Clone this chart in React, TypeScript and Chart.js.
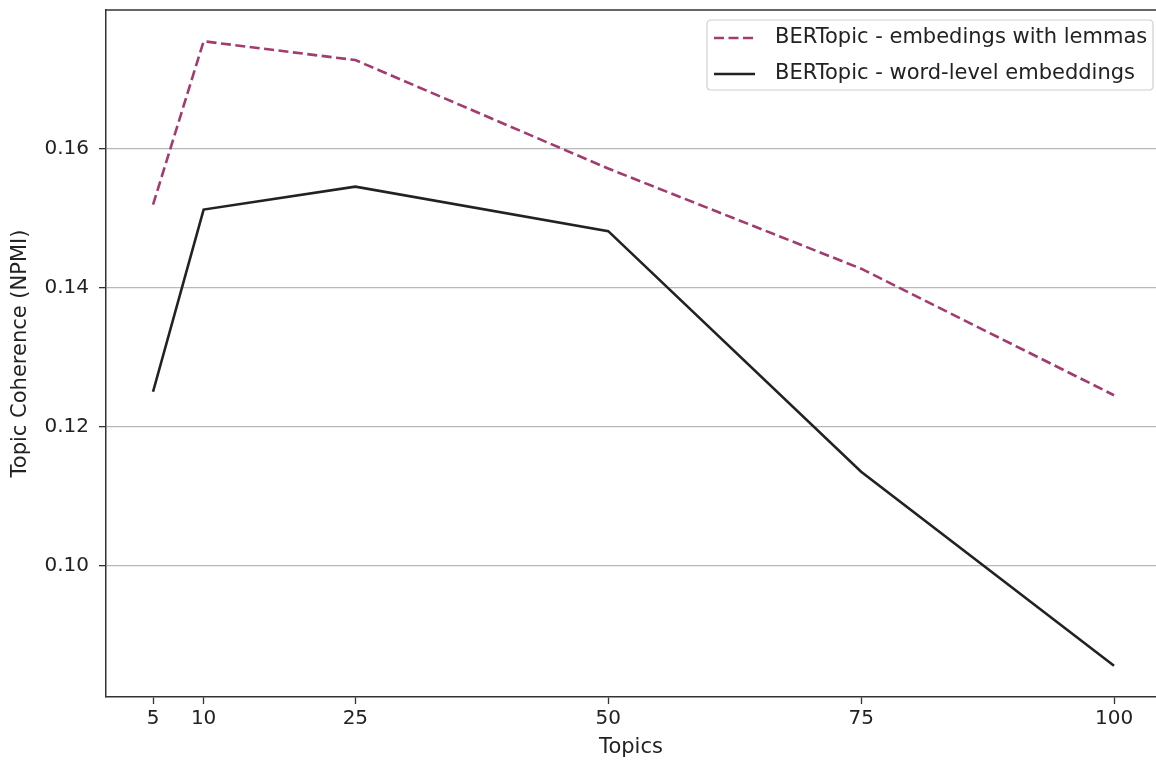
import React, { useEffect, useRef } from "react";
import { Chart, registerables } from "chart.js";

Chart.register(...registerables);

const topics = [5, 10, 25, 50, 75, 100];
const lemmaValues = [0.1519, 0.1754, 0.1727, 0.1571, 0.1427, 0.1245];
const wordValues = [0.125, 0.1512, 0.1545, 0.1481, 0.1135, 0.0856];
const yTicks = [0.1, 0.12, 0.14, 0.16];
const seriesLabels = [
  "BERTopic - embedings with lemmas",
  "BERTopic - word-level embeddings",
];
const lemmaColor = "#a23b6f";
const wordColor = "#222222";
const FONT = "'DejaVu Sans', sans-serif";
const FS = 20;
const FS_T = 21;

const framePlugin = {
  id: "frameAndLegend",
  afterDraw(chart: any) {
    const { ctx, chartArea } = chart;
    ctx.save();
    ctx.strokeStyle = "#333";
    ctx.lineWidth = 1.5;
    ctx.beginPath();
    ctx.moveTo(chartArea.left, chartArea.top);
    ctx.lineTo(chartArea.right, chartArea.top);
    ctx.stroke();

    // legend
    const x0 = 707, y0 = 20, w = 446, h = 70, r = 4;
    ctx.fillStyle = "rgba(255,255,255,0.85)";
    ctx.strokeStyle = "#d0d0d0";
    ctx.lineWidth = 1.2;
    ctx.beginPath();
    ctx.moveTo(x0 + r, y0);
    ctx.lineTo(x0 + w - r, y0);
    ctx.quadraticCurveTo(x0 + w, y0, x0 + w, y0 + r);
    ctx.lineTo(x0 + w, y0 + h - r);
    ctx.quadraticCurveTo(x0 + w, y0 + h, x0 + w - r, y0 + h);
    ctx.lineTo(x0 + r, y0 + h);
    ctx.quadraticCurveTo(x0, y0 + h, x0, y0 + h - r);
    ctx.lineTo(x0, y0 + r);
    ctx.quadraticCurveTo(x0, y0, x0 + r, y0);
    ctx.closePath();
    ctx.fill();
    ctx.stroke();

    const rows = [
      { y: 38, color: lemmaColor, dash: [10, 4.5] },
      { y: 74, color: wordColor, dash: [] as number[] },
    ];
    rows.forEach((row, i) => {
      ctx.strokeStyle = row.color;
      ctx.lineWidth = 2.6;
      ctx.setLineDash(row.dash);
      ctx.beginPath();
      ctx.moveTo(714, row.y);
      ctx.lineTo(755, row.y);
      ctx.stroke();
      ctx.setLineDash([]);
      ctx.fillStyle = "#222";
      ctx.font = `${FS_T}px ${FONT}`;
      ctx.textBaseline = "middle";
      ctx.textAlign = "left";
      ctx.fillText(seriesLabels[i], 775, row.y);
    });
    ctx.restore();
  },
};

export default function App() {
  const ref = useRef<HTMLCanvasElement>(null);
  useEffect(() => {
    document.body.style.margin = "0";
    const chart = new Chart(ref.current!, {
      type: "line",
      data: {
        datasets: [
          {
            label: seriesLabels[0],
            data: topics.map((t, i) => ({ x: t, y: lemmaValues[i] })),
            borderColor: lemmaColor,
            borderWidth: 2.6,
            borderDash: [10, 4.5],
            pointRadius: 0,
            tension: 0,
          },
          {
            label: seriesLabels[1],
            data: topics.map((t, i) => ({ x: t, y: wordValues[i] })),
            borderColor: wordColor,
            borderWidth: 2.6,
            pointRadius: 0,
            tension: 0,
          },
        ],
      },
      options: {
        animation: false,
        responsive: false,
        devicePixelRatio: 1,
        layout: { padding: { top: 10, right: 0, left: 0, bottom: 0 } },
        plugins: { legend: { display: false }, tooltip: { enabled: false } },
        scales: {
          x: {
            type: "linear",
            min: 0.35,
            max: 104.15,
            afterBuildTicks: (s: any) => {
              s.ticks = topics.map((v) => ({ value: v }));
            },
            afterFit: (s: any) => {
              s.height = 64;
              s.paddingLeft = 0;
              s.paddingRight = 0;
            },
            grid: {
              drawOnChartArea: false,
              drawTicks: true,
              tickLength: 7,
              tickColor: "#333",
              tickWidth: 1.3,
            },
            border: { color: "#333", width: 1.5 },
            ticks: {
              autoSkip: false,
              maxRotation: 0,
              padding: 3,
              color: "#222",
              font: { family: FONT, size: FS },
              callback: (v: any) => String(v),
            },
            title: {
              display: true,
              text: "Topics",
              color: "#222",
              font: { family: FONT, size: FS_T },
              padding: { top: 0, bottom: 1 },
            },
          },
          y: {
            type: "linear",
            min: 0.0811,
            max: 0.1799,
            afterBuildTicks: (s: any) => {
              s.ticks = yTicks.map((v) => ({ value: v }));
            },
            afterFit: (s: any) => {
              s.width = 106;
              s.paddingTop = 0;
              s.paddingBottom = 0;
            },
            grid: {
              drawOnChartArea: true,
              color: "#b8b8b8",
              lineWidth: 1.3,
              drawTicks: true,
              tickLength: 7,
              tickColor: "#333",
              tickWidth: 1.3,
            },
            border: { color: "#333", width: 1.5 },
            ticks: {
              padding: 10,
              color: "#222",
              font: { family: FONT, size: FS },
              callback: (v: any) => Number(v).toFixed(2),
            },
            title: {
              display: true,
              text: "Topic Coherence (NPMI)",
              color: "#222",
              font: { family: FONT, size: FS_T },
              padding: { top: 8, bottom: 0 },
            },
          },
        },
      },
      plugins: [framePlugin],
    });
    return () => chart.destroy();
  }, []);
  return (
    <div style={{ position: "fixed", left: 0, top: 0, width: 1156, height: 761, overflow: "hidden", background: "#fff" }}>
      <canvas ref={ref} width={1156} height={761} style={{ width: 1156, height: 761, display: "block" }} />
    </div>
  );
}
